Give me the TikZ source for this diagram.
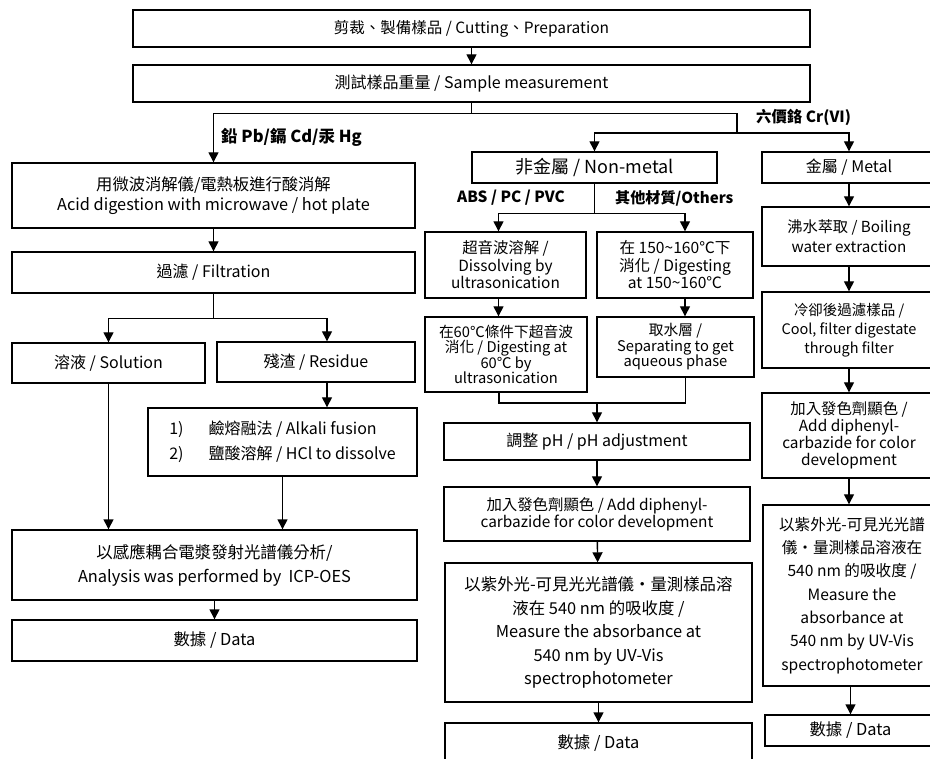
\documentclass[tikz,border=0pt]{standalone}
\usepackage{fontspec}
\setmainfont{Noto Sans CJK TC}
\usetikzlibrary{arrows.meta}

\tikzset{
  box/.style={draw, line width=1.4pt, align=center, inner sep=1pt, font=\fontsize{16}{19}\selectfont},
  sz/.style 2 args={minimum width=#1pt, minimum height=#2pt},
  fs/.style 2 args={font=\fontsize{#1}{#2}\selectfont},
  line/.style={line width=1.4pt},
  arr/.style={line width=1.4pt, -{Triangle[length=10pt,width=10pt]}},
  lbl/.style={anchor=west, inner sep=0pt, font=\bfseries\fontsize{15.4}{17}\selectfont},
}

\begin{document}
\begin{tikzpicture}[x=1pt, y=-1pt]
\useasboundingbox (0,0) rectangle (930,759);
\clip (0,0) rectangle (930,759);

% top
\node[box, sz={677}{37}, fs={15.5}{18}] (cut) at (471.5,28.5) {剪裁、製備樣品 / Cutting、Preparation};
\node[box, sz={677}{37}] (meas) at (471.5,83.5) {測試樣品重量 / Sample measurement};

% Pb / Cd / Hg
\node[box, sz={403}{65}, fs={16.3}{20}] (acid) at (213.5,195.5) {用微波消解儀/電熱板進行酸消解\\Acid digestion with microwave / hot plate};
\node[box, sz={403}{41}] (filt) at (213.5,272.5) {過濾 / Filtration};
\node[box, sz={193}{40}] (sol) at (108.5,363) {溶液 / Solution};
\node[box, sz={198}{40}] (res) at (316,362) {殘渣 / Residue};
\node[box, sz={269}{68}, align=left, fs={16}{25}] (alk) at (282.5,442) {1)\hspace{25pt}鹼熔融法 / Alkali fusion\\2)\hspace{25pt}鹽酸溶解 / HCl to dissolve};
\node[box, sz={405}{70}, fs={16.4}{24}] (icp) at (214.5,565) {以感應耦合電漿發射光譜儀分析/\\Analysis was performed by\ \ ICP-OES};
\node[box, sz={405}{41}, fs={16.4}{19}] (data1) at (214.5,640.5) {數據 / Data};

% non-metal
\node[box, sz={245}{31}, fs={18}{20}] (nonm) at (594.5,167.5) {非金屬 / Non-metal};
\node[box, sz={161}{66}, fs={15.4}{17.5}] (abs1) at (505.5,265) {超音波溶解 /\\Dissolving by\\ultrasonication};
\node[box, sz={156}{66}, fs={15.6}{17.5}] (oth1) at (675,265) {在 150\textasciitilde160℃下\\消化 / Digesting\\at 150\textasciitilde160℃};
\node[box, sz={162}{75}, fs={14.7}{15.5}] (abs2) at (506,354.5) {在60℃條件下超音波\\消化 / Digesting at\\60℃ by\\ultrasonication};
\node[box, sz={157}{60}, fs={14.7}{15.5}] (oth2) at (675.5,347) {取水層 /\\Separating to get\\aqueous phase};
\node[box, sz={306}{37}] (ph) at (597,441.5) {調整 pH / pH adjustment};
\node[box, sz={306}{54}, fs={15.4}{16.5}] (dpc1) at (597,514) {加入發色劑顯色 / Add diphenyl-\\carbazide for color development};
\node[box, sz={307}{139}, fs={16.4}{23.5}] (uv1) at (598.5,632.5) {以紫外光-可見光光譜儀‧量測樣品溶\\液在 540 nm 的吸收度 /\\Measure the absorbance at\\540 nm by UV-Vis\\spectrophotometer};
\node[box, sz={307}{40}, fs={16.4}{19}] (data2) at (598.5,743) {數據 / Data};

% metal
\node[box, sz={174}{31}] (metal) at (849,167.5) {金屬 / Metal};
\node[box, sz={174}{59}, fs={15.2}{20}] (boil) at (849,236.5) {沸水萃取 / Boiling\\water extraction};
\node[box, sz={174}{76}, fs={14.5}{19}] (cool) at (849,330) {冷卻後過濾樣品 /\\Cool, filter digestate\\through filter};
\node[box, sz={174}{85}, fs={15.4}{17}] (dpc2) at (849,435.5) {加入發色劑顯色 /\\Add diphenyl-\\carbazide for color\\development};
\node[box, sz={178}{181}, fs={15.6}{23.3}] (uv2) at (852,595.5) {以紫外光-可見光光譜\\儀‧量測樣品溶液在\\540 nm 的吸收度 /\\Measure the\\absorbance at\\540 nm by UV-Vis\\spectrophotometer};
\node[box, sz={171}{31}, fs={16.4}{19}] (data3) at (850.5,730.5) {數據 / Data};

% branch labels
\node[lbl, font=\bfseries\fontsize{16.5}{18}\selectfont] (pbl) at (221,137) {鉛 Pb/鎘 Cd/汞 Hg};
\node[lbl] (crl) at (756,117) {六價鉻 Cr(VI)};
\node[lbl] (absl) at (457,198) {ABS / PC / PVC};
\node[lbl, font=\bfseries\fontsize{15.1}{17}\selectfont] (othl) at (615,198) {其他材質/Others};

% connectors
\draw[arr] (cut) -- (meas);
\draw[line] (meas.south) -- ++(0,11) coordinate (j1);
\draw[arr] (j1) -| (acid.north);
\coordinate (j2) at (737,133);
\draw[line] (j1) -| (j2);
\draw[arr] (j2) -| (nonm.north);
\draw[arr] (j2) -| (metal.north);

\draw[arr] (acid) -- (filt);
\draw[line] (filt.south) -- ++(0,25) coordinate (j5);
\draw[arr] (j5) -| (sol.north);
\draw[arr] (j5) -| ([xshift=11pt]res.north);
\draw[arr] ([xshift=11pt]res.south) -- ([xshift=11pt]res.south |- alk.north);
\draw[arr] (sol.south) -- (sol.south |- icp.north);
\draw[arr] (alk.south) -- (alk.south |- icp.north);
\draw[arr] (icp) -- (data1);

\draw[line] (nonm.south) -- ++(0,30) coordinate (j3);
\draw[arr] (j3) -| ([xshift=-7pt]abs1.north);
\draw[arr] (j3) -| ([xshift=10pt]oth1.north);
\draw[arr] ([xshift=-7pt]abs1.south) -- ([xshift=-7pt]abs1.south |- abs2.north);
\draw[arr] ([xshift=10pt]oth1.south) -- ([xshift=10pt]oth1.south |- oth2.north);
\coordinate (j4) at (597,403);
\draw[line] ([xshift=-7pt]abs2.south) |- (j4);
\draw[line] ([xshift=10pt]oth2.south) |- (j4);
\draw[arr] (j4) -- (ph.north);
\draw[arr] (ph) -- (dpc1);
\draw[arr] (dpc1) -- (uv1);
\draw[arr] (uv1) -- (data2);

\draw[arr] (metal) -- (boil);
\draw[arr] (boil) -- (cool);
\draw[arr] (cool) -- (dpc2);
\draw[arr] (dpc2.south) -- (dpc2.south |- uv2.north);
\draw[arr] (data3.north |- uv2.south) -- (data3.north);

\end{tikzpicture}
\end{document}
